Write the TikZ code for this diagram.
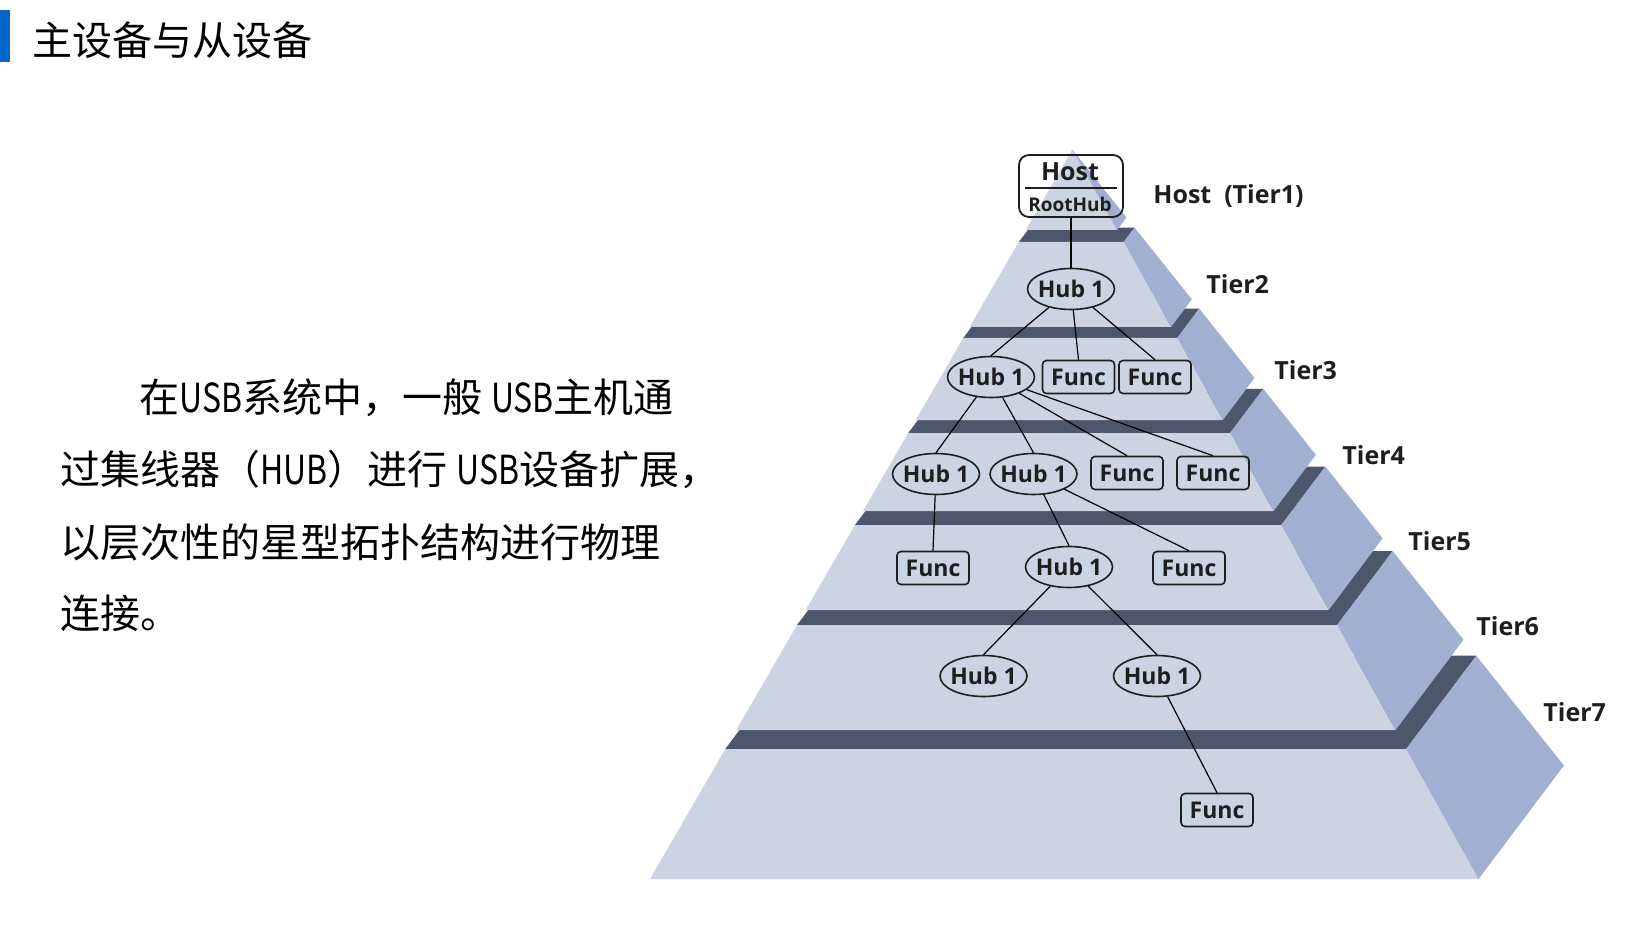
\documentclass[tikz,border=0pt]{standalone}
\usepackage{fontspec}
\usepackage{graphicx}
\setmainfont{Open Sans}
\newfontfamily\cjk{Noto Sans CJK SC}
\usetikzlibrary{shapes.geometric}
\definecolor{frontc}{RGB}{204,211,227}
\definecolor{sidec}{RGB}{161,175,209}
\definecolor{topc}{RGB}{77,87,107}
\definecolor{barblue}{RGB}{0,102,204}
\definecolor{ink}{RGB}{30,30,30}
\newcommand{\nl}[1]{\scalebox{0.8}[1]{#1}}
\begin{document}
\begin{tikzpicture}[x=0.5pt,y=-0.5pt,
  hub/.style={ellipse, draw=ink, line width=0.8pt, minimum width=43.5pt, minimum height=20.5pt, inner xsep=-5pt, inner ysep=-2pt, font=\bfseries\fontsize{11.5}{12}\selectfont, text=ink},
  func/.style={rectangle, rounded corners=2pt, draw=ink, line width=0.8pt, minimum width=36pt, minimum height=16.5pt, inner sep=0pt, font=\bfseries\fontsize{11.5}{12}\selectfont, text=ink},
  link/.style={draw=black, line width=0.6pt},
  tierlabel/.style={anchor=west, font=\bfseries\fontsize{12.5}{14}\selectfont, text=ink, inner sep=0pt},
  cjktext/.style={anchor=west, inner sep=0pt, font=\cjk\fontsize{20}{24}\selectfont, text=black}
]
\fill[white] (0,0) rectangle (1644,936);
\useasboundingbox (0,0) rectangle (1644,936);

% title
\fill[barblue] (0,10) rectangle (10,62);
\node[cjktext] (title) at (32,40) {主设备与从设备};

% paragraph
\node[cjktext] (p1) at (139,398) {在\nl{USB}系统中，一般 \nl{USB}主机通};
\node[cjktext] (p2) at (60,470) {过集线器（\nl{HUB}）进行 \nl{USB}设备扩展，};
\node[cjktext] (p3) at (60,542) {以层次性的星型拓扑结构进行物理};
\node[cjktext] (p4) at (60,613) {连接。};

% pyramid tiers, bottom first
\foreach \yt/\yb in {749/879, 625/730, 525/610, 433/511, 338/420, 242/327, 149.6/230}{
  \pgfmathsetmacro\xlt{650+0.579*(879-\yt)}
  \pgfmathsetmacro\xrt{1478-0.557*(878-\yt)}
  \pgfmathsetmacro\xlb{650+0.579*(879-\yb)}
  \pgfmathsetmacro\xrb{1478-0.557*(878-\yb)}
  \pgfmathsetmacro\wt{\xrt-\xlt}
  \pgfmathsetmacro\wb{\xrb-\xlb}
  \fill[topc] (\xlt,\yt) -- (\xrt,\yt) -- ({\xrt+0.103*\wt},{\yt-0.137*\wt}) -- ({\xlt+0.103*\wt},{\yt-0.137*\wt}) -- cycle;
  \fill[frontc] (\xlt,\yt) -- (\xrt,\yt) -- (\xrb,\yb) -- (\xlb,\yb) -- cycle;
  \fill[sidec] (\xrt,\yt) -- ({\xrt+0.103*\wt},{\yt-0.137*\wt}) -- ({\xrb+0.103*\wb},{\yb-0.137*\wb}) -- (\xrb,\yb) -- cycle;
}

% host
\node[draw=ink, line width=0.9pt, rounded corners=5pt, minimum width=52pt, minimum height=31pt, inner sep=0pt] (host) at (1071,186) {};
\node[font=\bfseries\fontsize{12.5}{13}\selectfont, text=ink, inner sep=0pt] (hosttxt) at (1070,172) {Host};
\node[font=\bfseries\fontsize{9.5}{10}\selectfont, text=ink, inner sep=0pt] (roothub) at (1070,204) {RootHub};
\draw[line width=0.8pt, ink] ([xshift=3.5pt,yshift=-1pt]host.west) -- ([xshift=-3.5pt,yshift=-1pt]host.east);

% nodes
\node[hub] (hub2) at (1071,289) {Hub 1};
\node[hub] (hub3) at (991,377) {Hub 1};
\node[func] (f3a) at (1078.5,377) {Func};
\node[func] (f3b) at (1155,377) {Func};
\node[hub] (hub4a) at (936,474) {Hub 1};
\node[hub] (hub4b) at (1033.5,474) {Hub 1};
\node[func] (f4c) at (1127,473) {Func};
\node[func] (f4d) at (1213,473) {Func};
\node[func] (f5a) at (933,568) {Func};
\node[hub] (hub5) at (1069,567) {Hub 1};
\node[func] (f5c) at (1189,568) {Func};
\node[hub] (hub6a) at (983.5,676) {Hub 1};
\node[hub] (hub6b) at (1157,676) {Hub 1};
\node[func] (f7) at (1217,810) {Func};

% links
\draw[link] (host) -- (hub2);
\draw[link] (hub2) -- (hub3.north);
\draw[link] (hub2) -- (f3a.north);
\draw[link] (hub2) -- (f3b.north);
\draw[link] (hub3) -- (hub4a.north);
\draw[link] (hub3) -- (hub4b.north);
\draw[link] (hub3) -- (f4c.north);
\draw[link] (hub3) -- (f4d.north);
\draw[link] (hub4a) -- (f5a.north);
\draw[link] (hub4b) -- (hub5.north);
\draw[link] (hub4b) -- (f5c.north);
\draw[link] (hub5) -- (hub6a.north);
\draw[link] (hub5) -- (hub6b.north);
\draw[link] (hub6b) -- (f7.north);

% tier labels
\node[tierlabel] (t1) at (1153,196) {Host\ \ (Tier1)};
\node[tierlabel] (t2) at (1206,284) {Tier2};
\node[tierlabel] (t3) at (1274,370) {Tier3};
\node[tierlabel] (t4) at (1342,455) {Tier4};
\node[tierlabel] (t5) at (1408,541) {Tier5};
\node[tierlabel] (t6) at (1476,626) {Tier6};
\node[tierlabel] (t7) at (1543,712) {Tier7};
\end{tikzpicture}
\end{document}
